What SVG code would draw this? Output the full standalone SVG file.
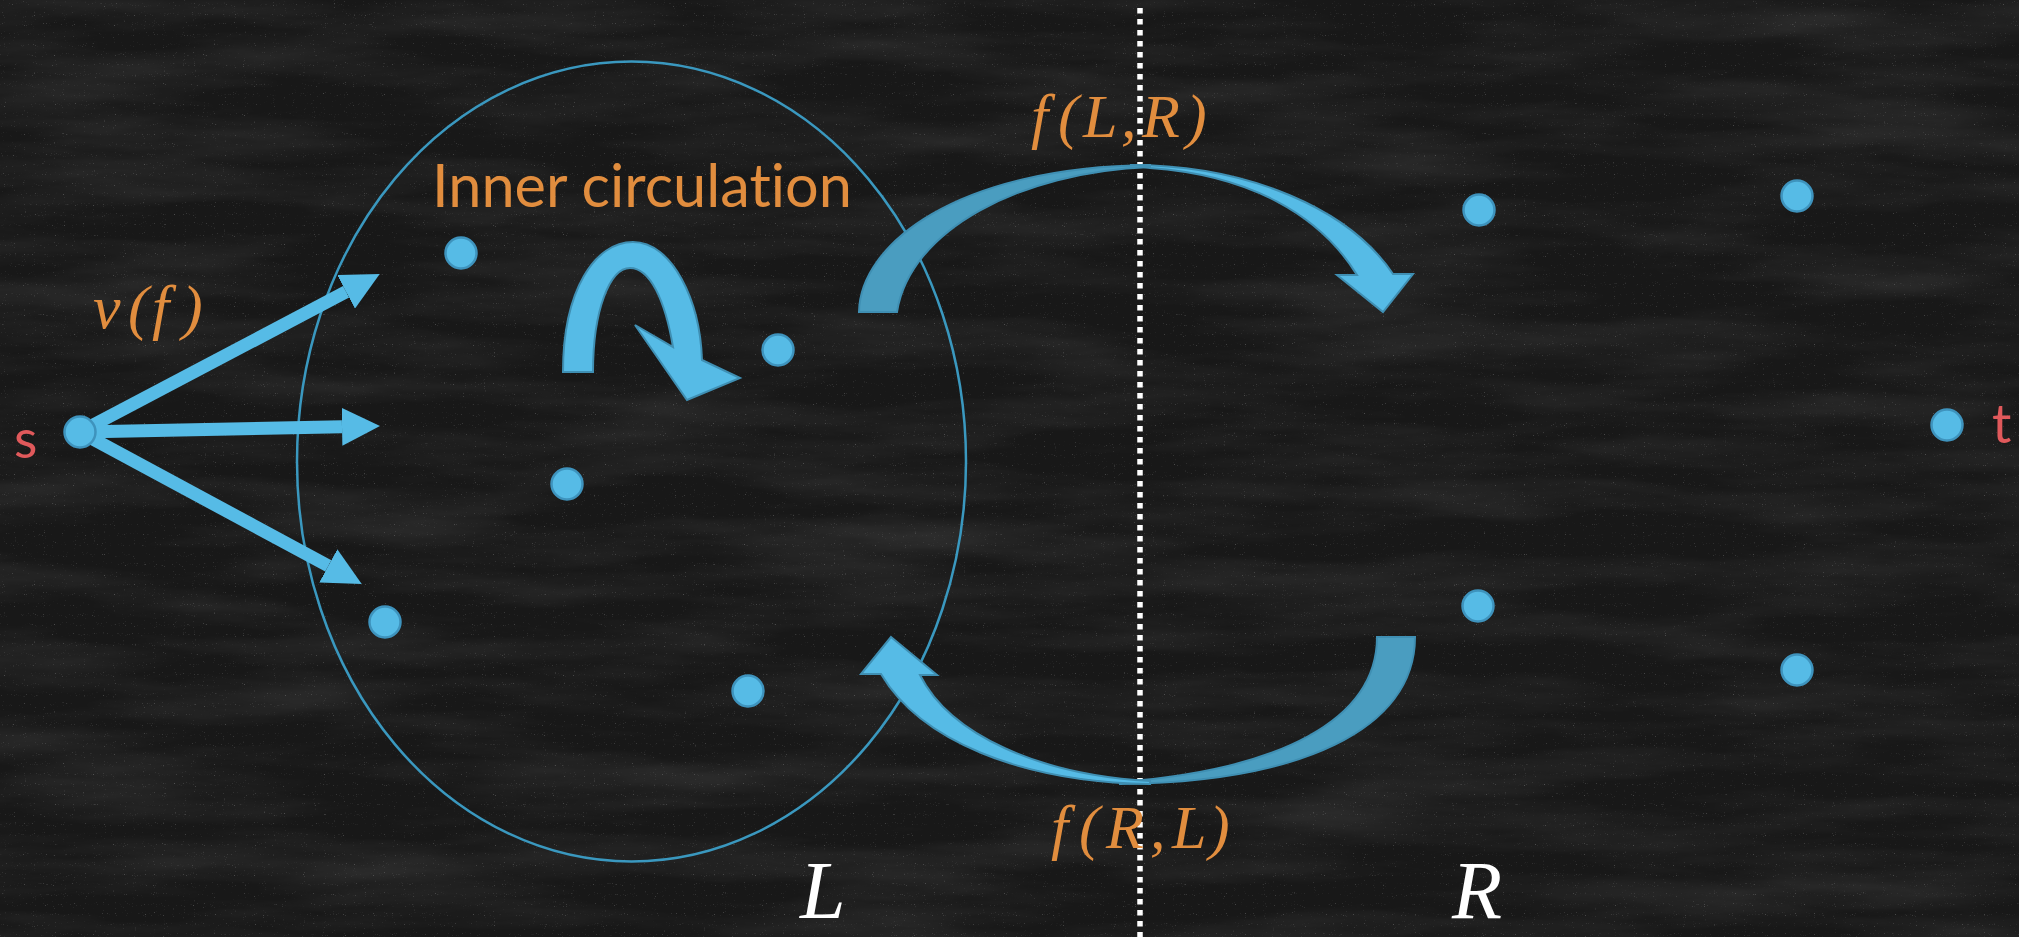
<svg xmlns="http://www.w3.org/2000/svg" width="2019" height="937" viewBox="0 0 2019 937">
  <defs>
    <style>
      .node { fill: #56BBE6; stroke: #3E93BD; stroke-width: 2.5; }
      .math { font-family: "Liberation Serif", "DejaVu Serif", serif; font-style: italic; fill: #E18D3E; font-size: 62px; }
      .side { font-family: "Liberation Serif", "DejaVu Serif", serif; font-style: italic; fill: #FFFFFF; font-size: 82px; }
      .lbl { font-family: Lato, "Liberation Sans", sans-serif; fill: #E0595B; font-size: 54px; }
      .orange { font-family: Lato, "Liberation Sans", sans-serif; fill: #E18D3E; font-size: 60px; font-variant-ligatures: none; }
      .edge { stroke: #56BBE6; stroke-width: 13; fill: none; marker-end: url(#head); }
      .bandDark { fill: #4A9DC0; stroke: #3F8FB3; stroke-width: 2; }
      .bandLight { fill: #56BBE6; stroke: #3F8FB3; stroke-width: 2; stroke-linejoin: miter; }
    </style>
    <marker id="head" markerUnits="userSpaceOnUse" markerWidth="38" markerHeight="38" viewBox="0 0 36 36" refX="0" refY="18" orient="auto">
      <path d="M0,0 L36,18 L0,36 Z" fill="#56BBE6"/>
    </marker>
    <filter id="chalk" x="0" y="0" width="100%" height="100%">
      <feTurbulence type="fractalNoise" baseFrequency="0.004 0.025" numOctaves="5" seed="7" result="n"/>
      <feColorMatrix in="n" type="matrix" values="0 0 0 0 1  0 0 0 0 1  0 0 0 0 1  0.8 0 0 0 -0.3"/>
    </filter>
    <filter id="speck" x="0" y="0" width="100%" height="100%">
      <feTurbulence type="fractalNoise" baseFrequency="0.9" numOctaves="1" seed="11" result="n"/>
      <feColorMatrix in="n" type="matrix" values="0 0 0 0 1  0 0 0 0 1  0 0 0 0 1  3 0 0 0 -2.05"/>
    </filter>
  </defs>

  <rect x="0" y="0" width="2019" height="937" fill="#181818"/>
  <rect x="0" y="0" width="2019" height="937" fill="#fff" filter="url(#chalk)" opacity="0.2"/>
  <rect x="0" y="0" width="2019" height="937" fill="#fff" filter="url(#speck)" opacity="0.45"/>

  <!-- region divider and set ellipse -->
  <line x1="1140" y1="8" x2="1140" y2="937" stroke="#FFFFFF" stroke-width="5.5" stroke-dasharray="5.5 5.5"/>
  <ellipse cx="631.5" cy="461.5" rx="334.5" ry="400" fill="none" stroke="#3A98BF" stroke-width="2.5"/>

  <!-- connectors -->
  <g id="connectors">
    <line class="edge" x1="80" y1="432" x2="346.1" y2="291.8"/>
    <line class="edge" x1="80" y1="432" x2="342" y2="426.7"/>
    <line class="edge" x1="80" y1="432" x2="328.3" y2="565.9"/>
    <g id="flow-LR">
      <path class="bandLight" d="M1130,165 C1250,165 1350,210 1393,274 L1413,274 L1383,312 L1337,275 L1357,275 C1320,215 1250,175 1150,168 Z"/>
      <path class="bandDark" d="M859,312 C860,245 955,167 1150,165 L1150,167 C1020,172 910,230 897,312 Z"/>
    </g>
    <g id="flow-RL">
      <path class="bandDark" d="M1415,637 C1415,730 1300,782 1120,784 L1120,782 C1280,770 1377,720 1377,637 Z"/>
      <path class="bandLight" d="M891,637 L937,675 L920,675 C950,735 1040,775 1150,781 L1150,784 C1020,782 920,740 881,674 L861,674 Z"/>
    </g>
    <path id="inner-circulation" class="bandLight" d="M563,372 C563,290 595,242 633,242 C672,242 700,300 702,360 L740,378 L687,400 L635,325 L673,347 C665,300 650,268 630,268 C610,268 593,310 593,372 Z"/>
  </g>

  <!-- nodes -->
  <g id="node-s">
    <circle class="node" cx="80" cy="432" r="15.5"/>
    <text class="lbl" x="14" y="458">s</text>
  </g>
  <g id="node-l1"><circle class="node" cx="461" cy="253" r="15.5"/></g>
  <g id="node-l2"><circle class="node" cx="778" cy="350" r="15.5"/></g>
  <g id="node-l3"><circle class="node" cx="567" cy="484" r="15.5"/></g>
  <g id="node-l4"><circle class="node" cx="385" cy="622" r="15.5"/></g>
  <g id="node-l5"><circle class="node" cx="748" cy="691" r="15.5"/></g>
  <g id="node-r1"><circle class="node" cx="1479" cy="210" r="15.5"/></g>
  <g id="node-r2"><circle class="node" cx="1797" cy="196" r="15.5"/></g>
  <g id="node-r3"><circle class="node" cx="1478" cy="606" r="15.5"/></g>
  <g id="node-r4"><circle class="node" cx="1797" cy="670" r="15.5"/></g>
  <g id="node-t">
    <circle class="node" cx="1947" cy="425" r="15.5"/>
    <text class="lbl" x="1992" y="443">t</text>
  </g>

  <!-- labels -->
  <g id="labels">
    <text class="math" x="93 128 152 182" y="328">v(f)</text>
    <text class="orange" x="432" y="207" textLength="420" lengthAdjust="spacingAndGlyphs">Inner circulation</text>
    <text class="math" x="1031 1058 1083 1121 1142 1186" y="137">f(L,R)</text>
    <text class="math" x="1051 1079 1106 1150 1172 1209" y="848">f(R,L)</text>
    <text class="side" x="800" y="918">L</text>
    <text class="side" x="1452" y="918">R</text>
  </g>
</svg>
